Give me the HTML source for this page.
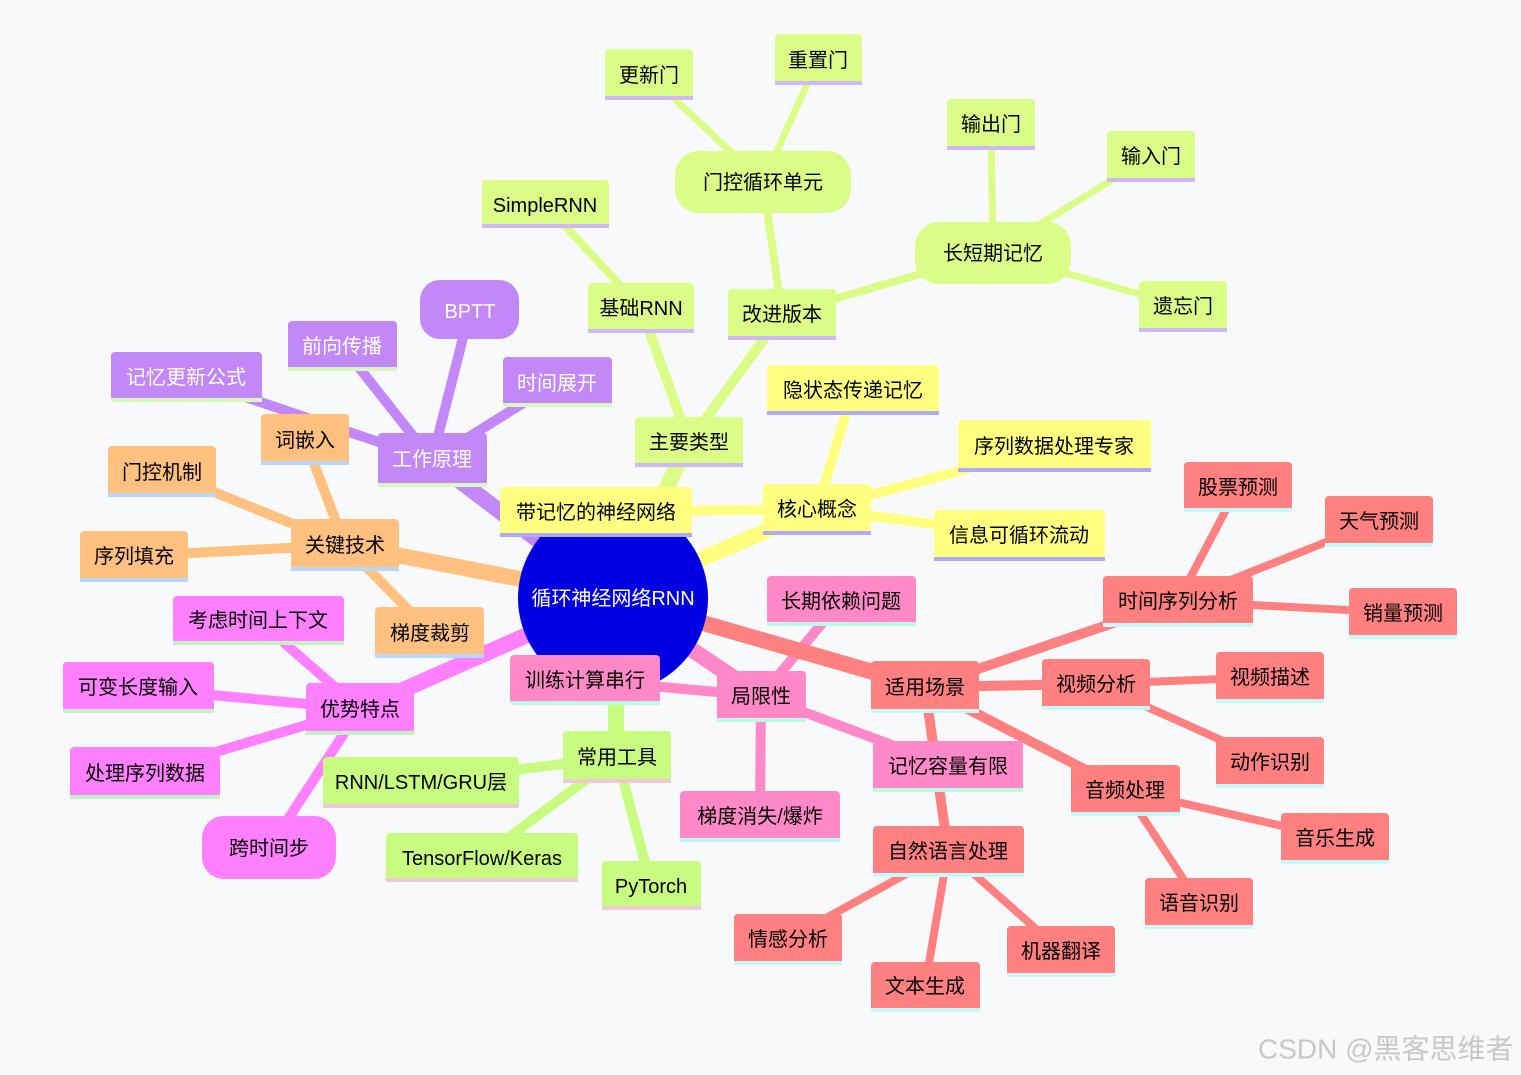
<!DOCTYPE html>
<html><head><meta charset="utf-8"><style>
body{margin:0;background:#f8f9fb;}
svg{display:block;}
text{font-family:"Liberation Sans","Noto Sans CJK SC",sans-serif;font-size:20px;text-anchor:middle;dominant-baseline:central;transform:translateY(2px);}
</style></head><body>
<svg width="1521" height="1075" viewBox="0 0 1521 1075" xmlns="http://www.w3.org/2000/svg">
<rect width="1521" height="1075" fill="#f8f9fb"/>
<g stroke-linecap="butt" fill="none">
<g stroke="#c288f8">
<line x1="613" y1="597" x2="432" y2="460" stroke-width="16"/>
<line x1="432" y1="460" x2="470" y2="310" stroke-width="10"/>
<line x1="432" y1="460" x2="342" y2="346" stroke-width="10"/>
<line x1="432" y1="460" x2="186" y2="377" stroke-width="10"/>
<line x1="432" y1="460" x2="557" y2="382" stroke-width="10"/>
</g>
<g stroke="#ffc080">
<line x1="613" y1="597" x2="345" y2="545" stroke-width="16"/>
<line x1="345" y1="545" x2="305" y2="440" stroke-width="10"/>
<line x1="345" y1="545" x2="162" y2="471" stroke-width="10"/>
<line x1="345" y1="545" x2="134" y2="556" stroke-width="10"/>
<line x1="345" y1="545" x2="430" y2="632" stroke-width="10"/>
</g>
<g stroke="#ff80ff">
<line x1="613" y1="597" x2="360" y2="709" stroke-width="16"/>
<line x1="360" y1="709" x2="258" y2="620" stroke-width="10"/>
<line x1="360" y1="709" x2="138" y2="688" stroke-width="10"/>
<line x1="360" y1="709" x2="145" y2="773" stroke-width="10"/>
<line x1="360" y1="709" x2="269" y2="848" stroke-width="10"/>
</g>
<g stroke="#ffff80">
<line x1="613" y1="597" x2="817" y2="509" stroke-width="16"/>
<line x1="817" y1="509" x2="596" y2="512" stroke-width="10"/>
<line x1="817" y1="509" x2="853" y2="390" stroke-width="10"/>
<line x1="817" y1="509" x2="1054" y2="446" stroke-width="10"/>
<line x1="817" y1="509" x2="1019" y2="535" stroke-width="10"/>
</g>
<g stroke="#dcfc88">
<line x1="613" y1="597" x2="689" y2="442" stroke-width="16"/>
<line x1="689" y1="442" x2="641" y2="308" stroke-width="10"/>
<line x1="689" y1="442" x2="782" y2="314" stroke-width="10"/>
<line x1="641" y1="308" x2="545" y2="204" stroke-width="8"/>
<line x1="782" y1="314" x2="763" y2="182" stroke-width="8"/>
<line x1="782" y1="314" x2="993" y2="253" stroke-width="8"/>
<line x1="763" y1="182" x2="649" y2="75" stroke-width="7"/>
<line x1="763" y1="182" x2="818" y2="60" stroke-width="7"/>
<line x1="993" y1="253" x2="991" y2="125" stroke-width="7"/>
<line x1="993" y1="253" x2="1151" y2="156" stroke-width="7"/>
<line x1="993" y1="253" x2="1183" y2="306" stroke-width="7"/>
</g>
<g stroke="#c8fc80">
<line x1="613" y1="597" x2="617" y2="757" stroke-width="16"/>
<line x1="617" y1="757" x2="421" y2="782" stroke-width="10"/>
<line x1="617" y1="757" x2="482" y2="857" stroke-width="10"/>
<line x1="617" y1="757" x2="651" y2="885" stroke-width="10"/>
</g>
<g stroke="#ff88c8">
<line x1="613" y1="597" x2="761" y2="696" stroke-width="16"/>
<line x1="761" y1="696" x2="841" y2="601" stroke-width="10"/>
<line x1="761" y1="696" x2="585" y2="680" stroke-width="10"/>
<line x1="761" y1="696" x2="760" y2="816" stroke-width="10"/>
<line x1="761" y1="696" x2="948" y2="766" stroke-width="10"/>
</g>
<g stroke="#ff8080">
<line x1="613" y1="597" x2="925" y2="687" stroke-width="16"/>
<line x1="925" y1="687" x2="1178" y2="601" stroke-width="10"/>
<line x1="925" y1="687" x2="1096" y2="684" stroke-width="10"/>
<line x1="925" y1="687" x2="1125" y2="790" stroke-width="10"/>
<line x1="925" y1="687" x2="948" y2="851" stroke-width="10"/>
<line x1="1178" y1="601" x2="1238" y2="487" stroke-width="8"/>
<line x1="1178" y1="601" x2="1379" y2="521" stroke-width="8"/>
<line x1="1178" y1="601" x2="1403" y2="613" stroke-width="8"/>
<line x1="1096" y1="684" x2="1270" y2="677" stroke-width="8"/>
<line x1="1096" y1="684" x2="1270" y2="762" stroke-width="8"/>
<line x1="1125" y1="790" x2="1335" y2="838" stroke-width="8"/>
<line x1="1125" y1="790" x2="1199" y2="903" stroke-width="8"/>
<line x1="948" y1="851" x2="788" y2="939" stroke-width="8"/>
<line x1="948" y1="851" x2="925" y2="987" stroke-width="8"/>
<line x1="948" y1="851" x2="1061" y2="951" stroke-width="8"/>
</g>
</g>
<circle cx="613" cy="598" r="95" fill="#0000e0"/>
<text x="613" y="597" fill="#fff">循环神经网络RNN</text>

<g fill="#c288f8">
<rect x="378" y="433" width="109" height="54" rx="4"/><rect x="378" y="483" width="109" height="4" fill="#d8f8c0"/>
<rect x="420" y="280" width="99" height="59" rx="20"/>
<rect x="288" y="321" width="109" height="50" rx="4"/><rect x="288" y="367" width="109" height="4" fill="#d8f8c0"/>
<rect x="111" y="352" width="151" height="50" rx="4"/><rect x="111" y="398" width="151" height="4" fill="#d8f8c0"/>
<rect x="503" y="357" width="109" height="50" rx="4"/><rect x="503" y="403" width="109" height="4" fill="#d8f8c0"/>
</g>
<g fill="#fff">
<text x="432" y="458">工作原理</text><text x="470" y="310">BPTT</text><text x="342" y="345">前向传播</text><text x="186" y="376">记忆更新公式</text><text x="557" y="382">时间展开</text>
</g>
<g fill="#ffc080">
<rect x="291" y="519" width="108" height="52" rx="4"/><rect x="291" y="567" width="108" height="4" fill="#b8d8f8"/>
<rect x="261" y="414" width="88" height="51" rx="4"/><rect x="261" y="461" width="88" height="4" fill="#b8d8f8"/>
<rect x="108" y="446" width="108" height="51" rx="4"/><rect x="108" y="493" width="108" height="4" fill="#b8d8f8"/>
<rect x="80" y="531" width="108" height="51" rx="4"/><rect x="80" y="578" width="108" height="4" fill="#b8d8f8"/>
<rect x="375" y="607" width="109" height="51" rx="4"/><rect x="375" y="654" width="109" height="4" fill="#b8d8f8"/>
</g>
<g fill="#000">
<text x="345" y="544">关键技术</text><text x="305" y="439">词嵌入</text><text x="162" y="471">门控机制</text><text x="134" y="555">序列填充</text><text x="430" y="632">梯度裁剪</text>
</g>
<g fill="#ff80ff">
<rect x="306" y="683" width="108" height="52" rx="4"/><rect x="306" y="731" width="108" height="4" fill="#c8f0c8"/>
<rect x="173" y="596" width="171" height="49" rx="4"/><rect x="173" y="641" width="171" height="4" fill="#c8f0c8"/>
<rect x="63" y="662" width="151" height="51" rx="4"/><rect x="63" y="709" width="151" height="4" fill="#c8f0c8"/>
<rect x="70" y="747" width="150" height="52" rx="4"/><rect x="70" y="795" width="150" height="4" fill="#c8f0c8"/>
<rect x="202" y="816" width="134" height="63" rx="22"/>
</g>
<g fill="#000">
<text x="360" y="708">优势特点</text><text x="258" y="619">考虑时间上下文</text><text x="138" y="686">可变长度输入</text><text x="145" y="772">处理序列数据</text><text x="269" y="847">跨时间步</text>
</g>
<g fill="#ffff80">
<rect x="500" y="487" width="192" height="50" rx="4"/><rect x="500" y="533" width="192" height="4" fill="#b0a8f8"/>
<rect x="763" y="484" width="108" height="51" rx="4"/><rect x="763" y="531" width="108" height="4" fill="#b0a8f8"/>
<rect x="767" y="365" width="172" height="50" rx="4"/><rect x="767" y="411" width="172" height="4" fill="#b0a8f8"/>
<rect x="958" y="420" width="193" height="52" rx="4"/><rect x="958" y="468" width="193" height="4" fill="#b0a8f8"/>
<rect x="934" y="510" width="171" height="51" rx="4"/><rect x="934" y="557" width="171" height="4" fill="#b0a8f8"/>
</g>
<g fill="#000">
<text x="596" y="511">带记忆的神经网络</text><text x="817" y="508">核心概念</text><text x="853" y="389">隐状态传递记忆</text><text x="1054" y="445">序列数据处理专家</text><text x="1019" y="534">信息可循环流动</text>
</g>
<g fill="#dcfc88">
<rect x="635" y="417" width="108" height="50" rx="4"/><rect x="635" y="463" width="108" height="4" fill="#d0b8f8"/>
<rect x="588" y="283" width="106" height="50" rx="4"/><rect x="588" y="329" width="106" height="4" fill="#d0b8f8"/>
<rect x="482" y="180" width="127" height="48" rx="4"/><rect x="482" y="224" width="127" height="4" fill="#d0b8f8"/>
<rect x="728" y="289" width="108" height="51" rx="4"/><rect x="728" y="336" width="108" height="4" fill="#d0b8f8"/>
<rect x="675" y="151" width="176" height="62" rx="24"/>
<rect x="605" y="49" width="88" height="51" rx="4"/><rect x="605" y="96" width="88" height="4" fill="#d0b8f8"/>
<rect x="775" y="34" width="87" height="51" rx="4"/><rect x="775" y="81" width="87" height="4" fill="#d0b8f8"/>
<rect x="915" y="222" width="156" height="62" rx="24"/>
<rect x="947" y="99" width="88" height="51" rx="4"/><rect x="947" y="146" width="88" height="4" fill="#d0b8f8"/>
<rect x="1107" y="131" width="88" height="51" rx="4"/><rect x="1107" y="178" width="88" height="4" fill="#d0b8f8"/>
<rect x="1139" y="281" width="88" height="51" rx="4"/><rect x="1139" y="328" width="88" height="4" fill="#d0b8f8"/>
</g>
<g fill="#000">
<text x="689" y="441">主要类型</text><text x="641" y="307">基础RNN</text><text x="545" y="204">SimpleRNN</text><text x="782" y="313">改进版本</text><text x="763" y="181">门控循环单元</text><text x="649" y="74">更新门</text><text x="818" y="59">重置门</text><text x="993" y="252">长短期记忆</text><text x="991" y="123">输出门</text><text x="1151" y="155">输入门</text><text x="1183" y="305">遗忘门</text>
</g>
<g fill="#c8fc80">
<rect x="563" y="731" width="108" height="52" rx="4"/><rect x="563" y="779" width="108" height="4" fill="#f0c8d8"/>
<rect x="323" y="757" width="196" height="51" rx="4"/><rect x="323" y="804" width="196" height="4" fill="#f0c8d8"/>
<rect x="386" y="833" width="192" height="49" rx="4"/><rect x="386" y="878" width="192" height="4" fill="#f0c8d8"/>
<rect x="602" y="861" width="99" height="49" rx="4"/><rect x="602" y="906" width="99" height="4" fill="#f0c8d8"/>
</g>
<g fill="#000">
<text x="617" y="756">常用工具</text><text x="421" y="781">RNN/LSTM/GRU层</text><text x="482" y="857">TensorFlow/Keras</text><text x="651" y="885">PyTorch</text>
</g>
<g fill="#ff88c8">
<rect x="717" y="671" width="89" height="51" rx="4"/><rect x="717" y="718" width="89" height="4" fill="#c0f8e8"/>
<rect x="767" y="576" width="149" height="50" rx="4"/><rect x="767" y="622" width="149" height="4" fill="#c0f8e8"/>
<rect x="510" y="655" width="150" height="50" rx="4"/><rect x="510" y="701" width="150" height="4" fill="#c0f8e8"/>
<rect x="680" y="791" width="160" height="51" rx="4"/><rect x="680" y="838" width="160" height="4" fill="#c0f8e8"/>
<rect x="873" y="741" width="150" height="51" rx="4"/><rect x="873" y="788" width="150" height="4" fill="#c0f8e8"/>
</g>
<g fill="#000">
<text x="761" y="695">局限性</text><text x="841" y="600">长期依赖问题</text><text x="585" y="679">训练计算串行</text><text x="760" y="815">梯度消失/爆炸</text><text x="948" y="765">记忆容量有限</text>
</g>
<g fill="#ff8080">
<rect x="871" y="661" width="108" height="52" rx="4"/><rect x="871" y="709" width="108" height="4" fill="#c8f8f8"/>
<rect x="1103" y="576" width="150" height="51" rx="4"/><rect x="1103" y="623" width="150" height="4" fill="#c8f8f8"/>
<rect x="1184" y="462" width="108" height="50" rx="4"/><rect x="1184" y="508" width="108" height="4" fill="#c8f8f8"/>
<rect x="1325" y="496" width="108" height="51" rx="4"/><rect x="1325" y="543" width="108" height="4" fill="#c8f8f8"/>
<rect x="1349" y="588" width="108" height="51" rx="4"/><rect x="1349" y="635" width="108" height="4" fill="#c8f8f8"/>
<rect x="1042" y="659" width="108" height="51" rx="4"/><rect x="1042" y="706" width="108" height="4" fill="#c8f8f8"/>
<rect x="1216" y="652" width="108" height="51" rx="4"/><rect x="1216" y="699" width="108" height="4" fill="#c8f8f8"/>
<rect x="1216" y="737" width="108" height="51" rx="4"/><rect x="1216" y="784" width="108" height="4" fill="#c8f8f8"/>
<rect x="1071" y="765" width="109" height="51" rx="4"/><rect x="1071" y="812" width="109" height="4" fill="#c8f8f8"/>
<rect x="1281" y="813" width="108" height="51" rx="4"/><rect x="1281" y="860" width="108" height="4" fill="#c8f8f8"/>
<rect x="1145" y="878" width="108" height="51" rx="4"/><rect x="1145" y="925" width="108" height="4" fill="#c8f8f8"/>
<rect x="873" y="826" width="151" height="51" rx="4"/><rect x="873" y="873" width="151" height="4" fill="#c8f8f8"/>
<rect x="734" y="914" width="108" height="51" rx="4"/><rect x="734" y="961" width="108" height="4" fill="#c8f8f8"/>
<rect x="871" y="962" width="109" height="50" rx="4"/><rect x="871" y="1008" width="109" height="4" fill="#c8f8f8"/>
<rect x="1007" y="926" width="108" height="51" rx="4"/><rect x="1007" y="973" width="108" height="4" fill="#c8f8f8"/>
</g>
<g fill="#000">
<text x="925" y="686">适用场景</text><text x="1178" y="600">时间序列分析</text><text x="1238" y="486">股票预测</text><text x="1379" y="520">天气预测</text><text x="1403" y="612">销量预测</text><text x="1096" y="683">视频分析</text><text x="1270" y="676">视频描述</text><text x="1270" y="761">动作识别</text><text x="1125" y="789">音频处理</text><text x="1335" y="837">音乐生成</text><text x="1199" y="902">语音识别</text><text x="948" y="850">自然语言处理</text><text x="788" y="938">情感分析</text><text x="925" y="985">文本生成</text><text x="1061" y="950">机器翻译</text>
</g>
<text x="1258" y="1047" fill="#c8c8c8" style="font-size:28px;text-anchor:start">CSDN @黑客思维者</text>
</svg>
</body></html>
